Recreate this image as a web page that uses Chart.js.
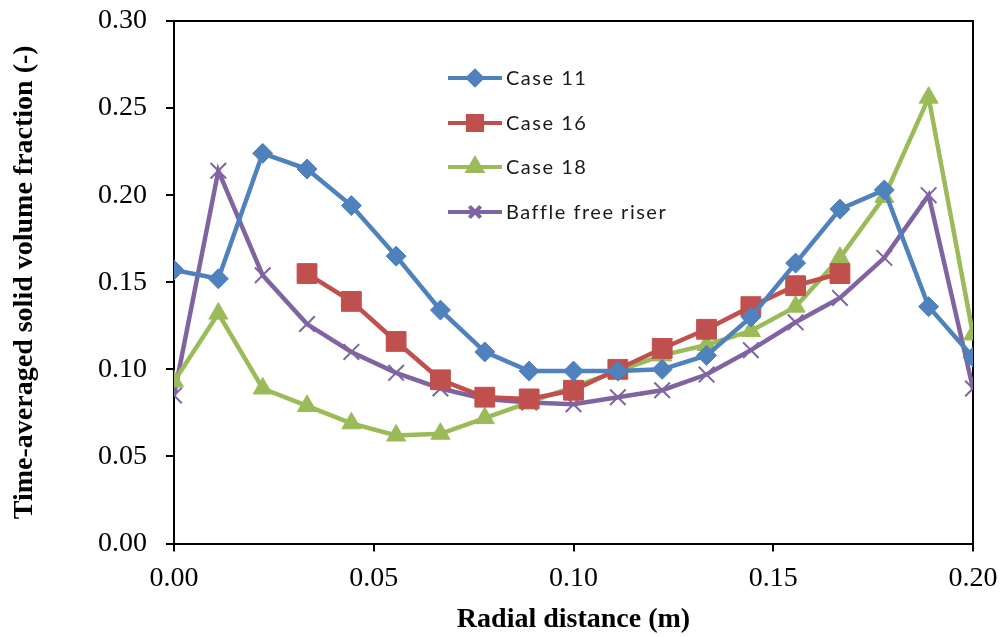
<!DOCTYPE html>
<html>
<head>
<meta charset="utf-8">
<script src="https://cdn.jsdelivr.net/npm/chart.js@4.4.1/dist/chart.umd.min.js"></script>
<style>
  html, body { margin: 0; padding: 0; background: #ffffff; }
  #wrap { width: 1006px; height: 637px; }
</style>
</head>
<body>
<div id="wrap"><canvas id="c" width="1006" height="637"></canvas></div>
<script>
// ---- Data ----
const radialDistance = [0.0000, 0.0111, 0.0222, 0.0333, 0.0444, 0.0556, 0.0667, 0.0778, 0.0889, 0.1000,
                        0.1111, 0.1222, 0.1333, 0.1444, 0.1556, 0.1667, 0.1778, 0.1889, 0.2000];
const case11 = [0.157, 0.152, 0.224, 0.215, 0.194, 0.165, 0.134, 0.110, 0.099, 0.099,
                0.099, 0.100, 0.108, 0.130, 0.161, 0.192, 0.203, 0.136, 0.107];
const case16 = [null, null, null, 0.155, 0.139, 0.116, 0.094, 0.084, 0.083, 0.088,
                0.100, 0.112, 0.123, 0.136, 0.148, 0.155, null, null, null];
const case18 = [0.093, 0.132, 0.089, 0.079, 0.069, 0.062, 0.063, 0.072, 0.081, 0.090,
                0.099, 0.108, 0.114, 0.122, 0.136, 0.164, 0.199, 0.256, 0.120];
const baffleFree = [0.085, 0.214, 0.154, 0.126, 0.110, 0.098, 0.089, 0.083, 0.081, 0.080,
                    0.084, 0.088, 0.097, 0.111, 0.127, 0.141, 0.164, 0.200, 0.089];
const seriesNames = ['Case 11', 'Case 16', 'Case 18', 'Baffle free riser'];
const xTitle = 'Radial distance (m)';
const yTitle = 'Time-averaged solid volume fraction (-)';

function pts(values) {
  return radialDistance.map((x, i) => ({ x: x, y: values[i] }));
}

const styles = [
  { color: '#4F81BD', pointStyle: 'rectRot', radius: 10, legendRadius: 7, pointBorderWidth: 1 },
  { color: '#C0504D', pointStyle: 'rect', radius: 14, legendRadius: 10, pointBorderWidth: 1 },
  { color: '#9BBB59', pointStyle: 'triangle', radius: 11, legendRadius: 8, pointBorderWidth: 1 },
  { color: '#8064A2', pointStyle: 'crossRot', radius: 11, legendRadius: 8, pointBorderWidth: 2 }
];
const allValues = [case11, case16, case18, baffleFree];

const datasets = allValues.map((vals, k) => ({
  label: seriesNames[k],
  data: pts(vals),
  borderColor: styles[k].color,
  backgroundColor: styles[k].color,
  borderWidth: 4.5,
  pointStyle: styles[k].pointStyle,
  pointRadius: styles[k].radius,
  pointBorderWidth: styles[k].pointBorderWidth,
  pointBackgroundColor: styles[k].color,
  pointBorderColor: styles[k].color,
  tension: 0,
  spanGaps: false,
  fill: false
}));

const frame = {
  id: 'frame',
  beforeDatasetsDraw(chart) {
    const a = chart.chartArea, ctx = chart.ctx;
    ctx.save();
    ctx.strokeStyle = '#000';
    ctx.lineWidth = 2;
    ctx.beginPath();
    ctx.moveTo(a.left, a.top);
    ctx.lineTo(a.right, a.top);
    ctx.lineTo(a.right, a.bottom);
    ctx.stroke();
    ctx.restore();
  }
};

const legendPlugin = {
  id: 'insideLegend',
  afterDraw(chart) {
    const ctx = chart.ctx;
    const x0 = 448, x1 = 502, tx = 506;
    const rows = [78, 123, 167, 212];
    ctx.save();
    ctx.font = '20px Lato';
    try { ctx.letterSpacing = '1.5px'; } catch (e) {}
    ctx.textBaseline = 'middle';
    ctx.textAlign = 'left';
    chart.data.datasets.forEach((ds, k) => {
      const y = rows[k];
      ctx.strokeStyle = ds.borderColor;
      ctx.lineWidth = 4;
      ctx.beginPath();
      ctx.moveTo(x0, y);
      ctx.lineTo(x1, y);
      ctx.stroke();
      ctx.fillStyle = ds.borderColor;
      ctx.strokeStyle = ds.borderColor;
      Chart.helpers.drawPoint(ctx, {
        pointStyle: styles[k].pointStyle,
        radius: styles[k].legendRadius,
        rotation: 0,
        borderWidth: styles[k].pointBorderWidth
      }, (x0 + x1) / 2, y);
      ctx.fillStyle = '#1a1a1a';
      ctx.fillText(ds.label, tx, y + 1);
    });
    ctx.restore();
  }
};

new Chart(document.getElementById('c'), {
  type: 'line',
  data: { datasets: datasets },
  plugins: [frame, legendPlugin],
  options: {
    responsive: false,
    animation: false,
    devicePixelRatio: 1,
    layout: { padding: { top: 21, right: 33, left: 0, bottom: 0 } },
    plugins: { legend: { display: false }, tooltip: { enabled: false } },
    scales: {
      x: {
        type: 'linear',
        min: 0, max: 0.2,
        afterFit(scale) { scale.height = 93.5; scale.paddingLeft = 0; scale.paddingRight = 0; },
        ticks: {
          stepSize: 0.05,
          padding: 10,
          color: '#000',
          font: { family: 'Liberation Serif', size: 28 },
          callback: v => Number(v).toFixed(2),
          maxRotation: 0
        },
        grid: { drawOnChartArea: false, drawTicks: true, tickLength: 8, color: '#000', lineWidth: 2 },
        border: { display: true, color: '#000', width: 2 },
        title: {
          display: true, text: xTitle, color: '#000',
          font: { family: 'Liberation Serif', size: 28, weight: 'bold' },
          padding: { top: 2, bottom: 0 }
        }
      },
      y: {
        min: 0, max: 0.3,
        afterFit(scale) { scale.width = 174; scale.paddingTop = 0; scale.paddingBottom = 0; },
        ticks: {
          stepSize: 0.05,
          padding: 19,
          color: '#000',
          font: { family: 'Liberation Serif', size: 28 },
          callback: v => Number(v).toFixed(2)
        },
        grid: { drawOnChartArea: false, drawTicks: true, tickLength: 8, color: '#000', lineWidth: 2 },
        border: { display: true, color: '#000', width: 2 },
        title: {
          display: true, text: yTitle, color: '#000',
          font: { family: 'Liberation Serif', size: 28, weight: 'bold' },
          padding: { top: 8, bottom: 0 }
        }
      }
    }
  }
});
</script>
</body>
</html>
